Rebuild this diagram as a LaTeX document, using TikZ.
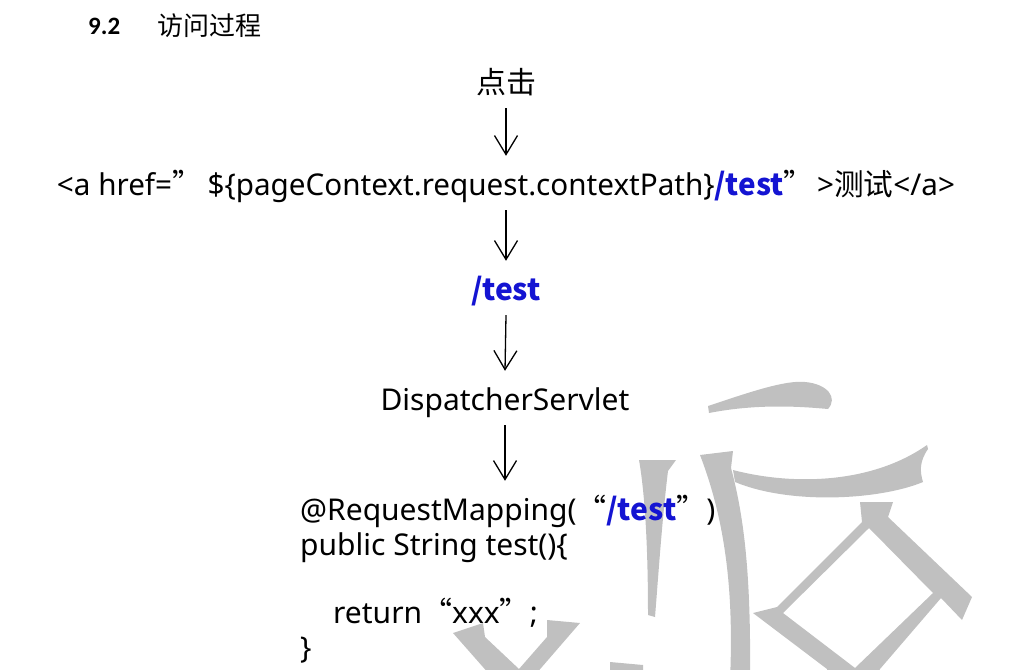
\documentclass[tikz,border=0pt]{standalone}
\usepackage{fontspec}
\setmainfont{Noto Sans}
\newfontfamily\cjk{Noto Sans CJK SC}
\newfontfamily\hd{Carlito}
\usetikzlibrary{arrows.meta}
\definecolor{wm}{RGB}{192,192,192}
\definecolor{tblue}{RGB}{20,20,210}
\tikzset{
  txt/.style={inner sep=0pt, anchor=base, text height=39pt, text depth=15pt, font=\fontsize{30}{36}\selectfont},
  codeln/.style={inner sep=0pt, anchor=base west, text height=39pt, text depth=8pt, font=\fontsize{30}{36}\selectfont},
  arr/.style={-{Straight Barb[length=19pt,width=23pt]}, line width=1.3pt},
  wmark/.style={fill=wm, draw=none}
}
\newcommand{\bt}[1]{{\cjk\bfseries\color{tblue}#1}}
\newcommand{\cj}[1]{{\cjk #1}}
\begin{document}
\begin{tikzpicture}[x=1pt,y=-1pt]
\useasboundingbox (0,0) rectangle (1014,669);
\begin{scope}
\clip (0,0) rectangle (1014,669);
% watermark strokes
\fill[wmark] (708,406) .. controls (750,392) and (785,380) .. (805,382) .. controls (828,384) and (838,398) .. (828,409) .. controls (805,407) and (760,403) .. (709,413) -- cycle;
\fill[wmark] (639,460) -- (676,460) -- (668,471) .. controls (662,520) and (658,580) .. (655,617) -- (648,615) .. controls (648,560) and (646,500) .. (639,460) -- cycle;
\fill[wmark] (700,455) -- (733,451) -- (731,468) .. controls (745,520) and (751,580) .. (750,680) -- (730,680) .. controls (734,590) and (725,520) .. (700,455) -- cycle;
\fill[wmark] (733,470) .. controls (790,485) and (870,485) .. (927,445) -- (928,449) .. controls (919,462) and (920,472) .. (923,482) .. controls (880,500) and (790,505) .. (735,482) -- cycle;
\fill[wmark, even odd rule] (860,502) -- (893,502) -- (888,517) -- (972,597) -- (962,620) -- (941,598) -- (880,669) -- (872,685) -- (832,685) -- (827,669) -- (753,613) -- (777,607) -- (862,522) -- cycle
  (869,528) -- (933,593) -- (855,668) -- (783,613) -- cycle;
\fill[wmark] (453,633) -- (483,623) -- (485,637) -- (519,669) -- (547,637) -- (547,620) -- (580,623) -- (535,675) -- (490,675) -- cycle;
\fill[wmark] (610,662) -- (643,665) -- (643,675) -- (610,675) -- cycle;
\end{scope}
% heading
\node[anchor=base west, inner sep=0pt, font=\hd\bfseries\fontsize{25}{28}\selectfont] (num) at (88,35) {9.2};
\node[anchor=base west, inner sep=0pt, font=\cjk\fontsize{26}{30}\selectfont] (ttl) at (157,36) {访问过程};
% flow
\node[txt, font=\cjk\fontsize{30}{36}\selectfont] (click) at (506,93) {点击};
\node[txt] (link) at (506,195) {\resizebox{898pt}{\height}{<a href=\cj{”}\hspace{6pt}\$\{pageContext.request.contextPath\}\bt{/test}\cj{”}\hspace{4pt}>\cj{测试}</a>}};
\node[txt] (url) at (506,300) {\bt{/test}};
\node[txt] (disp) at (505,410) {DispatcherServlet};
\node[codeln] (c1) at (300,520) {@RequestMapping(\cj{“}\bt{/test}\cj{”})};
\node[codeln] (c2) at (300,555) {public String test()\{};
\node[codeln] (c4) at (333,623) {return\cj{“}xxx\cj{”};};
\node[codeln] (c5) at (300,658) {\}};
\draw[arr] (click.south) -- (link.north);
\draw[arr] (link.south) -- (url.north);
\draw[arr] (url.south) -- (disp.north);
\draw[arr] (disp.south) -- (disp.south |- c1.north);
\end{tikzpicture}
\end{document}
